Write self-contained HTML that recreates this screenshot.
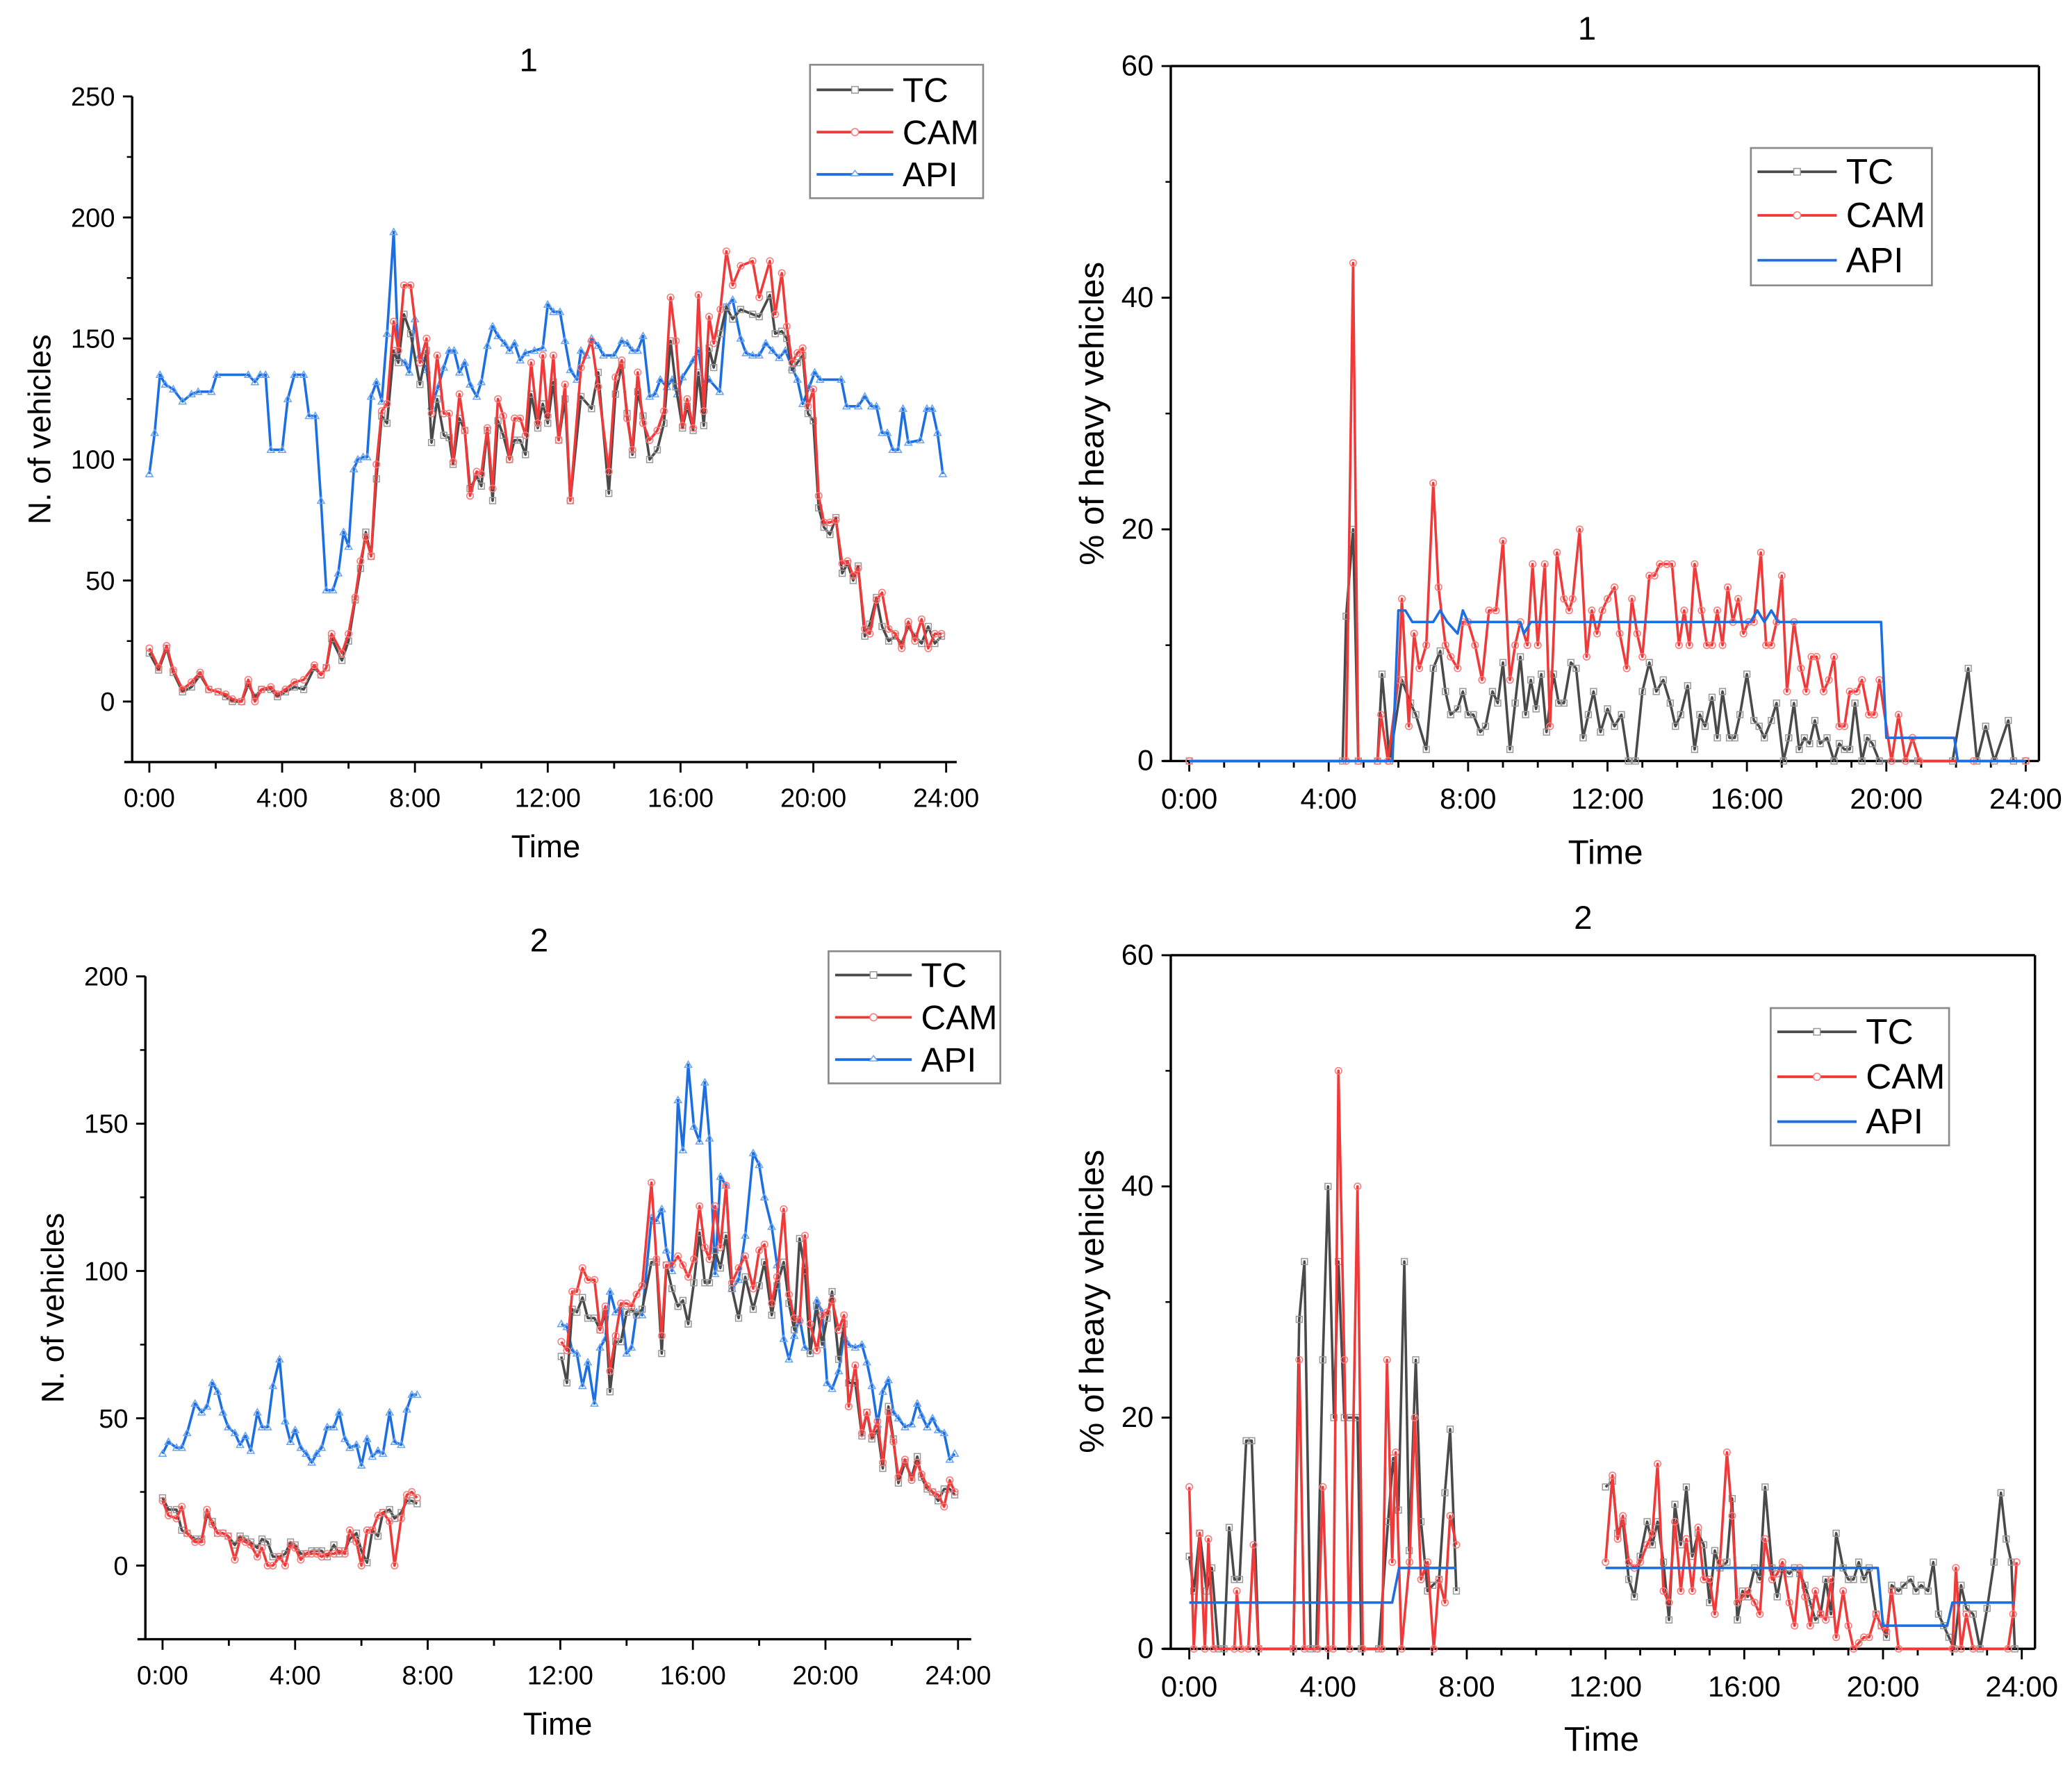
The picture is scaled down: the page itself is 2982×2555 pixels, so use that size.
<!DOCTYPE html>
<html><head><meta charset="utf-8"><style>
html,body{margin:0;padding:0;background:#fff;}
svg{display:block;font-family:"Liberation Sans",Arial,sans-serif;}
</style></head><body>
<svg id="root" width="2982" height="2555" viewBox="0 0 1568 1343.5" xmlns="http://www.w3.org/2000/svg"></svg>
<script>
// ---------- Panel 1: vehicles, site 1 ----------
const p1Times=[0,.28,.52,.72,1.0,1.27,1.53,1.79,2.07,2.3,2.5,2.78,2.98,3.18,3.38,3.66,3.86,4.1,4.37,4.65,4.97,5.17,5.33,5.49,5.8,6.0,6.2,6.36,6.52,6.68,6.84,7.0,7.16,7.36,7.5,7.67,7.87,8.15,8.35,8.5,8.67,8.87,9.03,9.15,9.34,9.5,9.66,9.86,10.0,10.18,10.34,10.5,10.66,10.85,11.0,11.17,11.33,11.5,11.7,11.85,12.0,12.17,12.33,12.52,12.68,13.0,13.32,13.52,13.84,14.04,14.23,14.39,14.55,14.71,14.87,15.07,15.3,15.5,15.7,15.86,16.06,16.2,16.38,16.54,16.7,16.86,17.0,17.2,17.38,17.57,17.81,18.17,18.37,18.69,18.85,19.05,19.2,19.36,19.52,19.68,19.84,20.0,20.16,20.32,20.5,20.68,20.87,21.03,21.2,21.35,21.55,21.7,21.9,22.07,22.27,22.47,22.66,22.86,23.06,23.26,23.46,23.66,23.86];
const p1TC=[20,13,22,12,4,6,11,5,4,2,0,0,7,2,5,5,2,4,6,5,14,11,14,26,17,25,42,55,70,60,92,118,115,145,140,160,152,131,145,107,125,110,109,98,117,112,88,93,89,112,83,116,110,100,108,108,102,127,113,123,115,132,108,125,83,126,121,136,86,127,139,119,102,128,118,100,104,115,149,130,113,122,112,136,114,146,138,152,163,158,162,160,159,168,152,153,150,137,140,143,119,116,80,72,69,76,53,57,50,56,27,32,43,31,25,27,24,31,27,24,31,24,27];
const p1CAM=[22,14,23,13,5,8,12,5,4,3,1,0,9,0,5,6,3,5,8,9,15,11,14,28,20,28,43,58,68,60,98,120,123,157,145,172,172,140,150,119,143,119,119,99,127,112,85,95,94,113,88,125,118,100,117,117,110,140,115,143,118,143,108,131,83,138,149,130,95,134,141,117,104,136,115,108,112,120,167,149,114,125,113,168,120,159,148,162,186,172,180,182,167,182,160,177,155,140,144,146,122,129,85,74,74,75,57,58,52,55,30,28,42,45,30,28,22,33,25,34,22,28,28];
const p1ApiTimes=[0,.16,.32,.48,.72,1.0,1.27,1.47,1.87,2.03,2.98,3.18,3.34,3.5,3.66,4.0,4.17,4.37,4.65,4.81,5.0,5.17,5.33,5.53,5.69,5.85,6.0,6.16,6.28,6.44,6.56,6.68,6.84,7.0,7.16,7.36,7.5,7.7,7.83,8.0,8.15,8.35,8.5,8.7,8.87,9.03,9.18,9.34,9.5,9.66,9.86,10.0,10.18,10.34,10.5,10.7,10.85,11.0,11.17,11.33,11.6,11.85,12.0,12.17,12.37,12.52,12.68,12.88,13.0,13.16,13.32,13.52,13.68,14.0,14.23,14.39,14.55,14.71,14.87,15.07,15.23,15.39,15.59,15.75,15.9,16.06,16.38,16.54,16.7,16.86,17.18,17.38,17.57,17.81,17.97,18.17,18.37,18.57,18.77,18.97,19.16,19.36,19.52,19.68,19.88,20.04,20.2,20.84,21.0,21.35,21.55,21.75,21.9,22.07,22.23,22.39,22.55,22.7,22.86,23.22,23.42,23.58,23.74,23.9];
const p1API=[94,111,135,131,129,124,127,128,128,135,135,132,135,135,104,104,125,135,135,118,118,83,46,46,53,70,64,96,100,101,101,126,132,124,152,194,142,140,136,158,143,137,122,130,138,145,145,136,140,131,126,132,147,155,151,148,145,148,141,144,145,146,164,161,161,149,137,133,145,143,150,147,143,143,149,148,145,145,151,126,127,133,130,133,127,134,141,145,130,133,128,163,166,150,144,143,143,148,145,142,145,138,133,123,130,136,133,133,122,122,126,122,122,111,111,104,104,121,107,108,121,121,111,94];

// ---------- Panel 2: heavy %, site 1 ----------
const p2TcTimes=[0,4.4,4.5,4.7,4.85,5.4,5.53,5.75,6.1,6.35,6.5,6.8,7.0,7.2,7.35,7.5,7.7,7.85,8.0,8.15,8.35,8.5,8.7,8.85,9.0,9.2,9.35,9.5,9.65,9.8,9.95,10.1,10.25,10.45,10.6,10.75,10.95,11.1,11.3,11.45,11.6,11.8,12.0,12.2,12.4,12.6,12.8,13.0,13.2,13.4,13.6,13.8,13.95,14.1,14.3,14.5,14.65,14.8,15.0,15.15,15.3,15.5,15.65,15.8,16.0,16.2,16.35,16.5,16.7,16.85,17.05,17.2,17.35,17.5,17.65,17.8,17.95,18.1,18.3,18.5,18.65,18.8,18.95,19.1,19.3,19.45,19.6,19.8,20.9,21.9,22.35,22.6,22.85,23.1,23.5,23.65,24];
const p2TC=[0,0,12.5,20,0,0,7.5,0,7,5,4,1,8,9.5,6,4,4.5,6,4,4,2.5,3,6,5,8.5,1,5,9,4,7,4.5,7.5,2.5,7.5,5,5,8.5,8,2,4,6,2.5,4.5,3,4,0,0,6,8.5,6,7,5,3,4,6.5,1,4,3,5.5,2,6,2,2,4,7.5,3.5,3,2,3.5,5,0,2,5,1,2,1.5,3.5,1.5,2,0,1.5,1,1,5,0,2,1.5,0,0,0,8,0,3,0,3.5,0,0];
const p2CamTimes=[0,4.5,4.7,4.85,5.4,5.5,5.7,6.0,6.1,6.3,6.45,6.6,6.8,7.0,7.15,7.35,7.5,7.7,7.85,8.0,8.2,8.4,8.6,8.8,9.0,9.2,9.35,9.5,9.7,9.85,10.0,10.2,10.35,10.55,10.75,10.9,11.0,11.2,11.4,11.55,11.7,11.85,12.0,12.2,12.35,12.55,12.7,12.85,13.0,13.2,13.35,13.5,13.7,13.85,14.05,14.2,14.35,14.5,14.7,14.85,15.0,15.15,15.3,15.45,15.6,15.75,15.9,16.05,16.2,16.4,16.55,16.7,16.85,17.0,17.15,17.35,17.55,17.7,17.85,18.0,18.2,18.35,18.5,18.65,18.8,18.95,19.15,19.3,19.5,19.65,19.8,20.15,20.35,20.55,20.75,20.95,22.5,24];
const p2CAM=[0,0,43,0,0,4,0,7,14,3,11,8,10,24,15,10,9,8,12,12,10,7,13,13,19,7,10,12,10,17,10,17,3,18,14,13,14,20,9,13,11,13,14,15,11,8,14,11,9,16,16,17,17,17,10,13,10,17,13,10,10,13,10,15,12,14,11,12,12,18,10,10,12,16,6,12,8,6,9,9,6,7,9,3,3,6,6,7,4,4,7,0,4,0,2,0,0,0];
const p2ApiTimes=[0,5.83,6.0,6.2,6.4,7.0,7.2,7.4,7.7,7.85,8.0,9.5,9.6,9.8,16.1,16.3,16.5,16.7,16.9,19.85,20.0,21.95,22.05,24];
const p2API=[0,0,13,13,12,12,13,12,11,13,12,12,11,12,12,13,12,13,12,12,2,2,0,0];

// ---------- Panel 3: vehicles, site 2 (null = data gap) ----------
const p3Times=[0,.18,.42,.58,.74,.98,1.18,1.34,1.5,1.66,1.82,1.98,2.18,2.34,2.5,2.66,2.86,3.0,3.17,3.33,3.53,3.7,3.86,4.0,4.17,4.33,4.5,4.65,4.8,4.97,5.17,5.33,5.5,5.65,5.85,6.0,6.17,6.33,6.5,6.65,6.85,7.0,7.2,7.37,7.52,7.68,10,12.03,12.2,12.36,12.5,12.67,12.83,13.03,13.2,13.36,13.5,13.67,13.83,14.0,14.15,14.3,14.47,14.75,14.9,15.06,15.2,15.37,15.55,15.7,15.86,16.03,16.2,16.36,16.5,16.67,16.83,17.0,17.18,17.38,17.58,17.82,18.0,18.16,18.38,18.54,18.74,18.9,19.06,19.22,19.38,19.54,19.74,19.9,20.05,20.2,20.4,20.56,20.7,20.9,21.1,21.25,21.4,21.57,21.73,21.9,22.05,22.2,22.4,22.6,22.77,22.9,23.07,23.23,23.4,23.58,23.75,23.9];
const p3TC=[23,19,19,12,11,9,9,17,15,11,11,10,7,10,9,8,6,9,8,3,3,4,8,7,4,4,5,5,5,3,7,4,5,9,11,5,1,12,10,18,19,16,18,22,22,21,null,71,62,87,86,91,84,84,80,86,59,76,76,86,87,85,87,103,103,72,102,94,88,90,82,96,113,96,96,107,101,112,94,84,98,87,95,103,85,95,103,89,80,111,100,72,88,75,84,93,70,82,62,62,44,52,43,46,33,54,43,28,35,30,37,30,26,25,22,26,26,24];
const p3CAM=[22,17,16,20,11,8,8,19,14,11,11,10,2,9,8,7,3,6,0,0,3,0,7,6,2,4,4,4,3,4,4,5,4,12,8,0,12,12,17,18,15,0,16,24,25,23,null,76,73,93,93,101,97,97,80,88,66,78,89,89,88,92,95,130,104,78,102,102,105,102,98,104,122,108,104,122,108,129,96,101,105,94,107,109,89,98,121,92,84,83,112,82,73,85,86,90,80,85,54,68,45,52,44,49,35,52,42,30,36,29,35,31,27,25,24,20,29,25];
const p3API=[38,42,40,40,45,55,52,54,62,59,52,47,45,41,44,39,52,47,47,61,70,49,42,46,40,38,35,38,40,47,47,52,43,40,41,34,43,37,39,38,52,42,41,53,58,58,null,82,81,73,72,61,69,55,74,77,93,86,88,72,74,86,85,118,117,121,107,100,158,141,170,149,144,164,145,99,132,129,94,97,112,140,136,125,115,102,77,70,78,84,74,73,90,86,62,60,66,78,75,74,75,69,61,48,59,63,52,50,47,48,55,51,47,50,46,45,36,38];

// ---------- Panel 4: heavy %, site 2 ----------
const p4TcTimes=[0,.13,.3,.5,.65,.84,1.0,1.15,1.3,1.45,1.64,1.8,2.0,3.0,3.17,3.32,3.5,3.66,3.85,4.0,4.17,4.3,4.47,4.62,4.85,4.96,5.46,5.73,5.88,6.03,6.2,6.34,6.53,6.68,6.87,7.02,7.2,7.37,7.52,7.7,10,12.0,12.2,12.35,12.5,12.67,12.83,13.0,13.2,13.35,13.5,13.67,13.83,14.0,14.17,14.33,14.5,14.67,14.83,15.0,15.15,15.3,15.5,15.65,15.8,15.95,16.1,16.3,16.45,16.6,16.8,16.95,17.1,17.3,17.45,17.6,17.75,17.9,18.05,18.2,18.35,18.5,18.65,18.85,19.0,19.15,19.3,19.45,19.6,19.8,19.95,20.1,20.25,20.45,20.6,20.8,20.95,21.1,21.3,21.45,21.6,21.75,21.9,22.05,22.25,22.4,22.6,22.8,23.0,23.2,23.4,23.55,23.7,23.8];
const p4TC=[8,5,10,5,7,0,0,10.5,6,6,18,18,0,0,28.5,33.5,0,0,25,40,20,33.5,20,20,20,0,0,11,16.5,12,33.5,8.5,25,11,5,5.5,6,13.5,19,5,null,14,14.5,10,11,6,4.5,8,11,9,11,7.5,2.5,12.5,9,14,8,10,9,4,8.5,7,7.5,13,2.5,5,4.5,7,6,14,7,4.5,7,6.5,7,6.5,5.5,4,2.5,3,6,3,10,7,6,6,7.5,6,7,3,2,1,5.5,5,5.5,6,5,5.5,5,7.5,3,2,1,0,5.5,3.5,3,0,3.5,7.5,13.5,9.5,7.5,0];
const p4CamTimes=[0,.13,.3,.45,.55,.7,1.3,1.37,1.5,1.7,1.85,2.0,3.0,3.17,3.32,3.7,3.85,4.0,4.15,4.3,4.47,4.62,4.85,5.0,5.55,5.7,5.85,5.95,6.12,6.35,6.5,6.68,6.87,7.05,7.2,7.37,7.52,7.7,10,12.0,12.2,12.35,12.5,12.67,12.83,13.0,13.2,13.35,13.5,13.67,13.83,14.0,14.17,14.33,14.5,14.67,14.83,15.0,15.15,15.3,15.5,15.65,15.8,15.95,16.1,16.3,16.45,16.6,16.8,16.95,17.1,17.3,17.45,17.6,17.75,17.9,18.05,18.2,18.35,18.5,18.65,18.85,19.0,19.15,19.3,19.45,19.6,19.8,19.95,20.1,20.25,20.45,22.0,22.1,22.25,22.4,22.6,23.6,23.75,23.85];
const p4CAM=[14,0,10,0,9.5,0,0,5,0,0,9,0,0,25,0,0,14,0,0,50,25,0,40,0,0,25,7.5,17,0,7.5,20,6,7.5,0,6,4,11.5,9,null,7.5,15,9.5,11.5,7.5,7,7.5,9,10,16,5,4,11,5,9.5,5,10.5,6,6,3,7.5,17,11.5,4,4.5,5,4,3,9.5,6,6.5,7.5,4,2,7,4.5,2,5,3,2.5,6,1,5,2,0,0.5,1,1,3,2,1.5,5,0,0,7,0,3,0,0,3,7.5];
const p4ApiTimes=[0,5.85,6.05,7.7,10,12.0,19.85,20.0,21.85,22.0,23.8];
const p4API=[4,4,7,7,null,7,7,2,2,4,4];

// ---------- Tick labels ----------
const timeTickLabels=["0:00","4:00","8:00","12:00","16:00","20:00","24:00"];
const p1YTicks=[0,50,100,150,200,250];
const p3YTicks=[0,50,100,150,200];
const pctYTicks=[0,20,40,60];

const NS="http://www.w3.org/2000/svg";
const root=document.getElementById('root');
const COL={TC:"#4a4a4a",CAM:"#f03a3a",API:"#1c6fe0"};
function el(tag,attrs,parent){const e=document.createElementNS(NS,tag);for(const k in attrs)e.setAttribute(k,attrs[k]);(parent||root).appendChild(e);return e;}
function txt(s,attrs,parent){const e=el('text',attrs,parent);e.textContent=s;return e;}

function panel(cfg){
  const g=el('g',{});
  
  
  const xs=t=>cfg.x0+(cfg.x24-cfg.x0)*t/24;
  const ys=v=>cfg.y0-(cfg.y0-cfg.yTopPx)*(v/cfg.yTopVal);
  const yBot=ys(cfg.yMin);
  const ax=el('g',{},g);
  
  
  el('line',{x1:cfg.ax,y1:cfg.yTopPx,x2:cfg.ax,y2:yBot,stroke:'#000','stroke-width':1.8},ax);
  el('line',{x1:cfg.ax-6,y1:yBot,x2:cfg.xEnd,y2:yBot,stroke:'#000','stroke-width':1.8},ax);
  if(cfg.box){
    el('line',{x1:cfg.ax,y1:cfg.yTopPx,x2:cfg.xEnd,y2:cfg.yTopPx,stroke:'#000','stroke-width':1.8},ax);
    el('line',{x1:cfg.xEnd,y1:cfg.yTopPx,x2:cfg.xEnd,y2:yBot,stroke:'#000','stroke-width':1.8},ax);
  }
  cfg.yTicks.forEach(v=>{
    el('line',{x1:cfg.ax-7,y1:ys(v),x2:cfg.ax,y2:ys(v),stroke:'#000','stroke-width':1.5},ax);
    const t=txt(String(v),{x:cfg.ax-13,y:ys(v)+7,'font-size':cfg.tickFs,'text-anchor':'end',fill:'#000'},ax);
    
    
  });
  for(let v=cfg.yMin<0?cfg.yMin:0;v<=cfg.yTopVal;v+=cfg.yMinor){
    el('line',{x1:cfg.ax-4,y1:ys(v),x2:cfg.ax,y2:ys(v),stroke:'#000','stroke-width':1.3},ax);
  }
  for(let h=0;h<=24;h+=cfg.xMinor){
    const major=h%4===0;
    el('line',{x1:xs(h),y1:yBot,x2:xs(h),y2:yBot+(major?8:5),stroke:'#000','stroke-width':1.5},ax);
  }
  timeTickLabels.forEach((s,i)=>{
    const t=txt(s,{x:xs(i*4),y:yBot+cfg.xLabDy,'font-size':cfg.tickFs,'text-anchor':'middle',fill:'#000'},ax);
    
    
  });
  const tt=txt(cfg.title,{x:cfg.titleX,y:cfg.titleY,'font-size':25,'text-anchor':'middle'},g);
  
  
  const xt=txt('Time',{x:cfg.timeX,y:cfg.timeY,'font-size':cfg.axFs,'text-anchor':'middle'},g);
  
  
  const yt=txt(cfg.ylabel,{x:0,y:0,'font-size':cfg.axFs,'text-anchor':'middle',transform:`translate(${cfg.ylx},${cfg.yly}) rotate(-90)`},g);
  
  
  cfg.series.forEach(s=>{
    const sg=el('g',{},g);
    
    
    let d='',pen=false;
    for(let i=0;i<s.t.length;i++){
      const v=s.v[i];
      if(v===null||v===undefined){pen=false;continue;}
      d+=(pen?'L':'M')+xs(s.t[i]).toFixed(2)+' '+ys(v).toFixed(2)+' ';pen=true;
    }
    const p=el('path',{d:d,fill:'none',stroke:COL[s.key],'stroke-width':1.9,'stroke-linejoin':'round'},sg);
    
    
    if(s.markers){
      for(let i=0;i<s.t.length;i++){
        const v=s.v[i];if(v===null||v===undefined)continue;
        const cx=xs(s.t[i]),cy=ys(v);let m;
        if(s.key==='TC')m=el('rect',{x:cx-2.3,y:cy-2.3,width:4.6,height:4.6,fill:'none',stroke:'#999','stroke-width':0.8},sg);
        else if(s.key==='CAM')m=el('circle',{cx:cx,cy:cy,r:2.5,fill:'none',stroke:'#f77','stroke-width':0.8},sg);
        else m=el('path',{d:`M${cx} ${cy-2.7}L${cx+2.7} ${cy+2}L${cx-2.7} ${cy+2}Z`,fill:'none',stroke:'#6aa3f0','stroke-width':0.8},sg);
        
        
      }
    }
  });
  const L=cfg.legend;
  const lg=el('g',{},g);
  
  
  el('rect',{x:L.x,y:L.y,width:L.w,height:L.h,fill:'#fff',stroke:'#8a8a8a','stroke-width':1.4},lg);
  ['TC','CAM','API'].forEach((k,i)=>{
    const ry=L.rows[i];
    const e=el('g',{},lg);
    
    
    el('line',{x1:L.x+5,y1:ry,x2:L.x+L.lw,y2:ry,stroke:COL[k],'stroke-width':2},e);
    const mx=L.x+5+(L.lw-5)/2;
    if(k==='TC')el('rect',{x:mx-2.5,y:ry-2.5,width:5,height:5,fill:'#fff',stroke:'#999','stroke-width':0.8},e);
    if(k==='CAM')el('circle',{cx:mx,cy:ry,r:2.7,fill:'#fff',stroke:'#f77','stroke-width':0.8},e);
    if(k==='API'&&L.apiMarker)el('path',{d:`M${mx} ${ry-3}L${mx+3} ${ry+1}L${mx-3} ${ry+1}Z`,fill:'#fff',stroke:'#6aa3f0','stroke-width':0.8},e);
    txt(k,{x:L.x+L.lw+7,y:ry+9,'font-size':L.fs},e);
  });
}

panel({name:'chart-vehicles-site-1',x0:113,x24:716,ax:100,xEnd:724,y0:531,yTopPx:73,yTopVal:250,yMin:-25,yTicks:p1YTicks,yMinor:25,xMinor:2,tickFs:20,xLabDy:34,axFs:24,
  title:'1',titleX:400,titleY:54,timeX:413,timeY:649,ylabel:'N. of vehicles',ylx:38,yly:325,
  series:[{key:'API',t:p1ApiTimes,v:p1API,markers:true},{key:'TC',t:p1Times,v:p1TC,markers:true},{key:'CAM',t:p1Times,v:p1CAM,markers:true}],
  legend:{x:613,y:49,w:131,h:101,rows:[68,100,132],lw:63,fs:26,apiMarker:true}});

panel({name:'chart-heavy-site-1',x0:900,x24:1533,ax:886,xEnd:1543,y0:576,yTopPx:50,yTopVal:60,yMin:0,yTicks:pctYTicks,yMinor:10,xMinor:1,box:true,tickFs:22,xLabDy:36,axFs:26,
  title:'1',titleX:1201,titleY:30,timeX:1215,timeY:654,ylabel:'% of heavy vehicles',ylx:835,yly:313,
  series:[{key:'TC',t:p2TcTimes,v:p2TC,markers:true},{key:'CAM',t:p2CamTimes,v:p2CAM,markers:true},{key:'API',t:p2ApiTimes,v:p2API,markers:false}],
  legend:{x:1325,y:112,w:137,h:104,rows:[130,163,197],lw:65,fs:27,apiMarker:false}});

panel({name:'chart-vehicles-site-2',x0:123,x24:725,ax:110,xEnd:735,y0:1185,yTopPx:739,yTopVal:200,yMin:-25,yTicks:p3YTicks,yMinor:25,xMinor:2,tickFs:20,xLabDy:34,axFs:24,
  title:'2',titleX:408,titleY:720,timeX:422,timeY:1313,ylabel:'N. of vehicles',ylx:48,yly:990,
  series:[{key:'API',t:p3Times,v:p3API,markers:true},{key:'TC',t:p3Times,v:p3TC,markers:true},{key:'CAM',t:p3Times,v:p3CAM,markers:true}],
  legend:{x:627,y:720,w:130,h:100,rows:[738,770,802],lw:63,fs:26,apiMarker:true}});

panel({name:'chart-heavy-site-2',x0:900,x24:1530,ax:886,xEnd:1540,y0:1248,yTopPx:723,yTopVal:60,yMin:0,yTicks:pctYTicks,yMinor:10,xMinor:1,box:true,tickFs:22,xLabDy:36,axFs:26,
  title:'2',titleX:1198,titleY:703,timeX:1212,timeY:1325,ylabel:'% of heavy vehicles',ylx:835,yly:985,
  series:[{key:'TC',t:p4TcTimes,v:p4TC,markers:true},{key:'CAM',t:p4CamTimes,v:p4CAM,markers:true},{key:'API',t:p4ApiTimes,v:p4API,markers:false}],
  legend:{x:1340,y:763,w:135,h:104,rows:[781,815,849],lw:65,fs:27,apiMarker:false}});
</script>
</body></html>
